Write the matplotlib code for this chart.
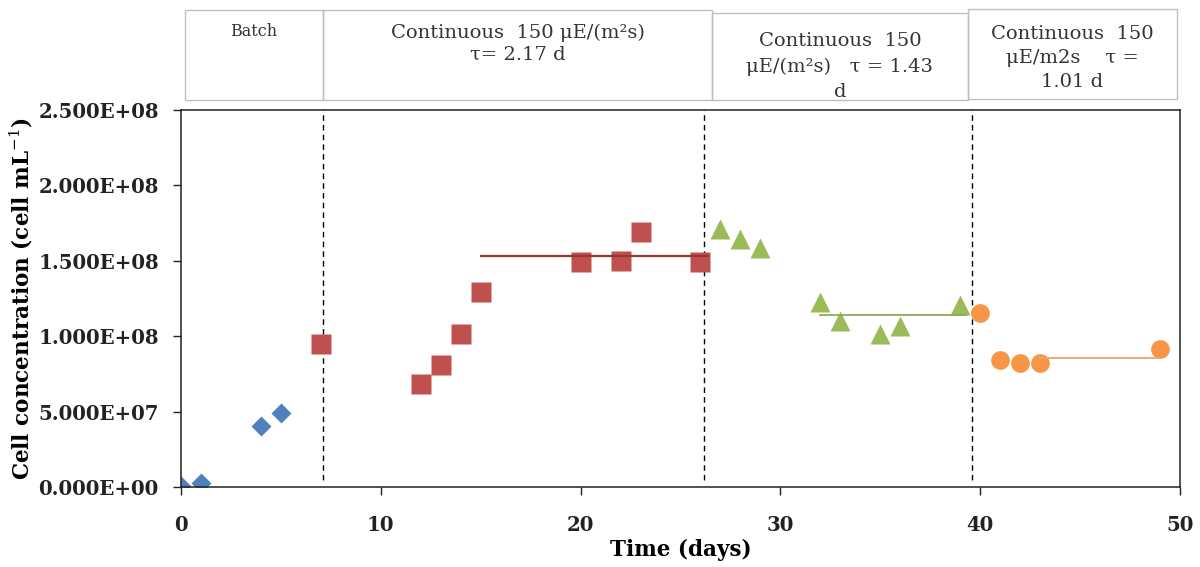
import matplotlib
matplotlib.use('Agg')
import matplotlib.pyplot as plt
from matplotlib.patches import Rectangle
from matplotlib.ticker import FuncFormatter

# Cell counts per operating phase (days, cells/mL)
batch_days = [0, 1, 4, 5]
batch_conc = [0.07e7, 0.27e7, 4.05e7, 4.9e7]

cont217_days = [7, 12, 13, 14, 15, 20, 22, 23, 26]
cont217_conc = [0.95e8, 0.68e8, 0.81e8, 1.015e8, 1.29e8, 1.49e8, 1.50e8, 1.69e8, 1.49e8]

cont143_days = [27, 28, 29, 32, 33, 35, 36, 39]
cont143_conc = [1.71e8, 1.645e8, 1.585e8, 1.23e8, 1.10e8, 1.015e8, 1.07e8, 1.21e8]

cont101_days = [40, 41, 42, 43, 49]
cont101_conc = [1.155e8, 0.84e8, 0.82e8, 0.82e8, 0.915e8]

# steady-state averages and the days they span
ss217_days, ss217_mean = [15, 26.4], 1.532e8
ss143_days, ss143_mean = [32, 39.3], 1.14e8
ss101_days, ss101_mean = [43, 49], 0.855e8

# regime switch days
switch_days = [7.1, 26.2, 39.6]

# header labels for each regime
phase_labels = [
    'Batch',
    'Continuous  150 \u03bcE/(m\u00b2s)\n\u03c4= 2.17 d',
    'Continuous  150\n\u03bcE/(m\u00b2s)   \u03c4 = 1.43\nd',
    'Continuous  150\n\u03bcE/m2s    \u03c4 =\n1.01 d',
]

plt.rcParams['font.family'] = ['DejaVu Serif']
plt.rcParams['mathtext.fontset'] = 'dejavuserif'

fig = plt.figure(figsize=(12, 5.67), dpi=100)
ax = fig.add_axes([0.1508, 0.141, 0.8325, 0.665])

ax.plot(batch_days, batch_conc, 'D', color='#4F81BD', ms=10.5, mec='none')
ax.plot(cont217_days, cont217_conc, 's', color='#C0504D', ms=14.5, mec='none')
ax.plot(cont143_days, cont143_conc, '^', color='#9BBB59', ms=14.5, mec='none')
ax.plot(cont101_days, cont101_conc, 'o', color='#F79646', ms=13.5, mec='none')

ax.plot(ss217_days, [ss217_mean] * 2, color='#953735', lw=1.6)
ax.plot(ss143_days, [ss143_mean] * 2, color='#8DAA5A', lw=1.3)
ax.plot(ss101_days, [ss101_mean] * 2, color='#E9A46A', lw=1.3)

for d in switch_days:
    ax.plot([d, d], [0.05e8, 2.5e8], color='black', lw=1.0,
            linestyle=(0, (4, 3)), clip_on=False, zorder=1)

ax.set_xlim(0, 50)
ax.set_ylim(0, 2.5e8)
ax.set_xticks(range(0, 51, 10))
ax.set_yticks([i * 0.5e8 for i in range(6)])
ax.yaxis.set_major_formatter(FuncFormatter(lambda v, p: f'{v:.3E}'))

for s in ax.spines.values():
    s.set_linewidth(1.1)
    s.set_color('#222222')
ax.tick_params(direction='out', length=6, width=1.0, colors='#222222')
ax.tick_params(axis='x', pad=14)
ax.tick_params(axis='y', pad=10)
for lab in ax.get_xticklabels() + ax.get_yticklabels():
    lab.set_fontsize(14.2)
    lab.set_fontweight('bold')
    lab.set_color('#222222')

ax.set_xlabel('Time (days)', fontsize=15.5, fontweight='bold', labelpad=3)
ax.set_ylabel('Cell concentration (cell mL$^{-1}$)', fontsize=15.5,
              fontweight='bold', labelpad=2)

# header boxes (figure pixel coords converted to fractions)
W, H = 1200, 567
boxes = [(185, 323, 10, 100), (323, 712, 10, 100),
         (712, 968, 13, 100), (968, 1177, 9, 99)]
text_y = [32, 43.5, 66.5, 58]
sizes = [11.5, 14, 14, 14]
spacing = [1.2, 1.25, 1.52, 1.45]
for (x0, x1, y0, y1), lab, ty, fs, ls in zip(boxes, phase_labels, text_y, sizes, spacing):
    fig.patches.append(Rectangle((x0 / W, 1 - y1 / H), (x1 - x0) / W, (y1 - y0) / H,
                                 transform=fig.transFigure, fill=False,
                                 edgecolor='#BFBFBF', lw=1.0))
    fig.text((x0 + x1) / 2 / W, 1 - ty / H, lab, ha='center', va='center',
             fontsize=fs, color='#333333', linespacing=ls)

fig.savefig('out.png', dpi=100)
